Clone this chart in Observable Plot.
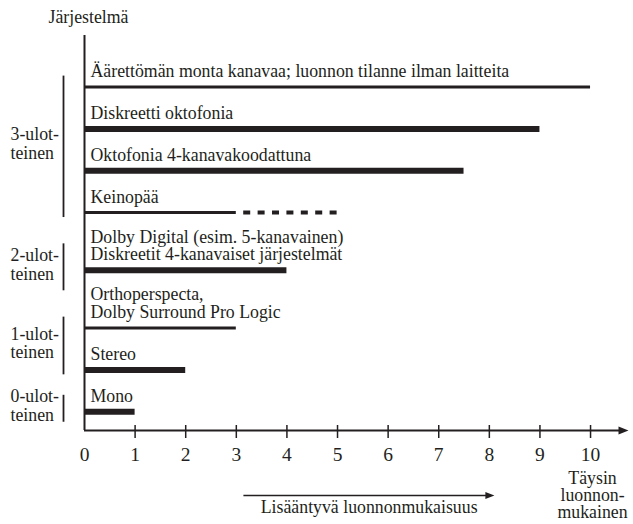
<!DOCTYPE html>
<html>
<head>
<meta charset="utf-8">
<script src="https://cdn.jsdelivr.net/npm/d3@7"></script>
<script src="https://cdn.jsdelivr.net/npm/@observablehq/plot@0.6"></script>
<style>
  html, body { margin: 0; padding: 0; background: #fff; }
  #chart svg { display: block; }
  #chart svg, #chart svg text, #chart svg tspan { font-family: "Liberation Serif", "Times New Roman", Times, serif !important; }
</style>
</head>
<body>
<div id="chart"></div>
<script>
// ---- data ----
const systems = [
  "Äärettömän monta kanavaa; luonnon tilanne ilman laitteita",
  "Diskreetti oktofonia",
  "Oktofonia 4-kanavakoodattuna",
  "Keinopää",
  "Dolby Digital (esim. 5-kanavainen)\nDiskreetit 4-kanavaiset järjestelmät",
  "Orthoperspecta,\nDolby Surround Pro Logic",
  "Stereo",
  "Mono"
];
const naturalness = [10, 9, 7.5, 3, 4, 3, 2, 1];
const potential = [null, null, null, 5, null, null, null, null];
const dimensionality = [3, 3, 3, 3, 2, 1, 1, 0];
const dimensionLabels = ["0-ulot-\nteinen", "1-ulot-\nteinen", "2-ulot-\nteinen", "3-ulot-\nteinen"];
const xTicks = [0, 1, 2, 3, 4, 5, 6, 7, 8, 9, 10];
const axisTitle = "Järjestelmä";
const xEndLabel = "Täysin\nluonnon-\nmukainen";
const arrowLabel = "Lisääntyvä luonnonmukaisuus";
const arrowSpan = [3.15, 8.1];
const xAxisEnd = 10.75;

// ---- layout helpers (rows stacked by their number of text lines) ----
const ink = "#231f20";
const rowGap = 1.64;               // gap between rows, in text-line units
const thinBars = new Set([systems[0], systems[3], systems[5]]);

let cum = 0;
const rows = systems.map((s, i) => {
  const lines = s.split("\n").length;
  cum += lines;
  return {system: s, value: naturalness[i], potential: potential[i], dim: dimensionality[i], lines, pos: cum + rowGap * i};
});
const yDomain = [rows[0].pos - 3.25, rows[rows.length - 1].pos + 1.18];
const yB = yDomain[1];

const groups = [3, 2, 1, 0].map(d => {
  const m = rows.filter(r => r.dim === d);
  const first = m[0], last = m[m.length - 1];
  const mid = (first.pos + last.pos) / 2;
  const half = Math.max((last.pos - first.pos) / 2 + 0.5, 0.85 + 0.63 * (first.lines - 1));
  const bc = mid - 0.19;
  return {label: dimensionLabels[d], center: mid - 0.38, top: bc - half, bottom: bc + half};
});

const arrowHead = {
  draw(context, size) {
    const r = Math.sqrt(size / Math.PI);
    context.moveTo(r, 0);
    context.lineTo(-r, -0.8 * r);
    context.lineTo(-r, 0.8 * r);
    context.closePath();
  }
};

const font = "Liberation Serif, Times New Roman, Times, serif";
const fs = 17.8;
const T = {fontFamily: font, fill: ink, fontSize: fs};

const chart = Plot.plot({
  width: 633,
  height: 524,
  marginLeft: 84,
  marginRight: 5,
  marginTop: 35,
  marginBottom: 94,
  style: {fontFamily: font, fontSize: fs + "px", color: ink, background: "#fff"},
  x: {domain: [0, xAxisEnd], axis: null},
  y: {domain: yDomain, reverse: true, axis: null},
  marks: [
    // vertical axis
    Plot.ruleX([0], {stroke: ink, strokeWidth: 2}),
    // horizontal axis with arrow
    Plot.ruleY([yB], {x1: () => 0, x2: () => xAxisEnd, insetRight: 6, stroke: ink, strokeWidth: 2}),
    Plot.dot([xAxisEnd], {x: d => d, y: () => yB, symbol: arrowHead, r: 5, dx: -5, fill: ink, stroke: "none"}),
    // ticks
    Plot.ruleX(xTicks.filter(t => t > 0), {x: d => d, y1: () => yB, y2: () => yB, insetTop: -5, insetBottom: -8, stroke: ink, strokeWidth: 1.5}),
    Plot.text(xTicks, {...T, x: d => d, y: () => yB, text: d => String(d), dy: 30.5, lineAnchor: "bottom", fontSize: 19.5}),
    // bars
    Plot.ruleY(rows, {y: "pos", x1: () => 0, x2: "value", stroke: ink, strokeWidth: d => thinBars.has(d.system) ? 3 : 6}),
    Plot.ruleY(rows.filter(r => r.potential != null), {y: "pos", x1: "value", x2: "potential", stroke: ink, strokeWidth: 4, strokeDasharray: "7 7.4", strokeDashoffset: 7}),
    // bar labels
    Plot.text(rows, {...T, x: () => 0, y: "pos", text: "system", textAnchor: "start", lineAnchor: "bottom", dx: 6, dy: -10, lineHeight: 1.0}),
    // group labels and brackets
    Plot.text(groups, {...T, x: () => 0, y: "center", text: "label", textAnchor: "start", lineAnchor: "middle", dx: -74, lineHeight: 1.05}),
    Plot.ruleX(groups, {x: () => 0, y1: "top", y2: "bottom", dx: -21, stroke: ink, strokeWidth: 1.8}),
    // title
    Plot.text([axisTitle], {...T, frameAnchor: "top-left", text: d => d, textAnchor: "start", lineAnchor: "bottom", dx: -36, dy: -13}),
    // end label
    Plot.text([xEndLabel], {...T, x: () => 10, y: () => yB, text: d => d, lineAnchor: "top", dy: 41, dx: 2, lineHeight: 0.96}),
    // bottom arrow
    Plot.ruleY([arrowSpan], {x1: d => d[0], x2: d => d[1], y: () => yB, dy: 65, insetRight: 5, stroke: ink, strokeWidth: 1.5}),
    Plot.dot([arrowSpan], {x: d => d[1], y: () => yB, dy: 65, dx: -4.5, symbol: arrowHead, r: 4.5, fill: ink, stroke: "none"}),
    Plot.text([arrowLabel], {...T, x: () => (arrowSpan[0] + arrowSpan[1]) / 2, y: () => yB, text: d => d, dy: 82, lineAnchor: "bottom"})
  ]
});
document.getElementById("chart").append(chart);
</script>
</body>
</html>
